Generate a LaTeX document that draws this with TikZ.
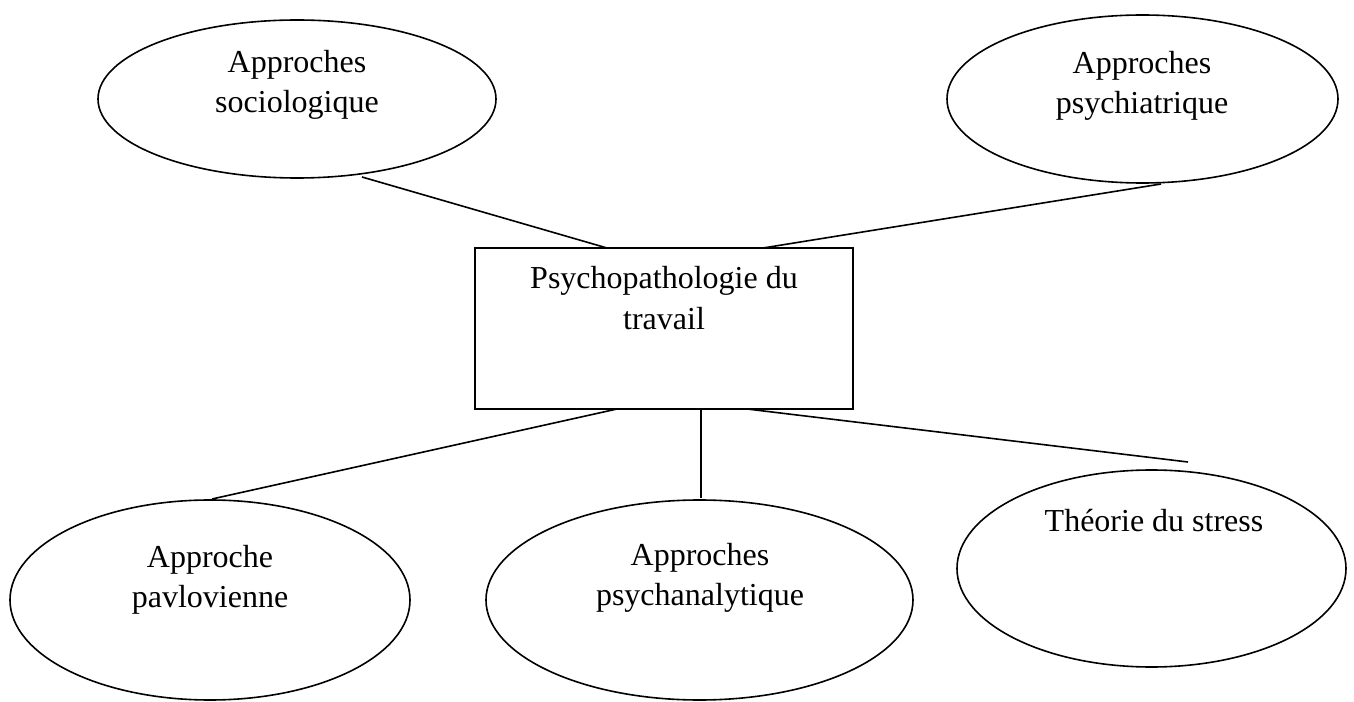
\documentclass[tikz,border=0pt]{standalone}
\usepackage{fontspec}
\setmainfont{Liberation Serif}
\usetikzlibrary{shapes.geometric}
\begin{document}
\begin{tikzpicture}[x=0.75pt,y=-0.75pt,
  oval/.style={draw,ellipse,line width=1.2pt,inner sep=0pt},
  box/.style={draw,rectangle,line width=1.2pt,inner sep=0pt},
  lbl/.style={align=center,inner sep=0pt,anchor=base,font=\fontsize{24}{30}\selectfont},
  link/.style={line width=1.2pt}]
\useasboundingbox (0,0) rectangle (1354,702);
% shapes
\node[oval,minimum width=398*0.75pt,minimum height=158*0.75pt] (e1) at (297,99) {};
\node[oval,minimum width=391*0.75pt,minimum height=168*0.75pt] (e2) at (1142.5,99) {};
\node[oval,minimum width=400*0.75pt,minimum height=200*0.75pt] (e3) at (210,600) {};
\node[oval,minimum width=427*0.75pt,minimum height=200*0.75pt] (e4) at (699.5,600) {};
\node[oval,minimum width=389*0.75pt,minimum height=197*0.75pt] (e5) at (1151.5,568.5) {};
\node[box,minimum width=378*0.75pt,minimum height=161*0.75pt] (box) at (664,328.5) {};
% texts (base anchor = baseline of the last line)
\node[lbl] (t1) at (297,113) {Approches\\sociologique};
\node[lbl] (t2) at (1142,114) {Approches\\psychiatrique};
\node[lbl,font=\fontsize{24}{31.5}\selectfont] (tb) at (664,330) {Psychopathologie du\\travail};
\node[lbl] (t3) at (210,607) {Approche\\pavlovienne};
\node[lbl] (t4) at (700,605) {Approches\\psychanalytique};
\node[lbl] (t5) at (1154,531) {Théorie du stress};
% connector ends
\coordinate (c1a) at (362,177);
\coordinate (c1b) at (607,248);
\coordinate (c2a) at (1161,184);
\coordinate (c2b) at (763,248);
\coordinate (c3a) at (617,409);
\coordinate (c3b) at (212,499);
\coordinate (c4a) at (701,409);
\coordinate (c4b) at (701,498);
\coordinate (c5a) at (747,409);
\coordinate (c5b) at (1188,462);
\draw[link] (c1a) -- (c1b);
\draw[link] (c2a) -- (c2b);
\draw[link] (c3a) -- (c3b);
\draw[link] (c4a) -- (c4b);
\draw[link] (c5a) -- (c5b);
\end{tikzpicture}
\end{document}
